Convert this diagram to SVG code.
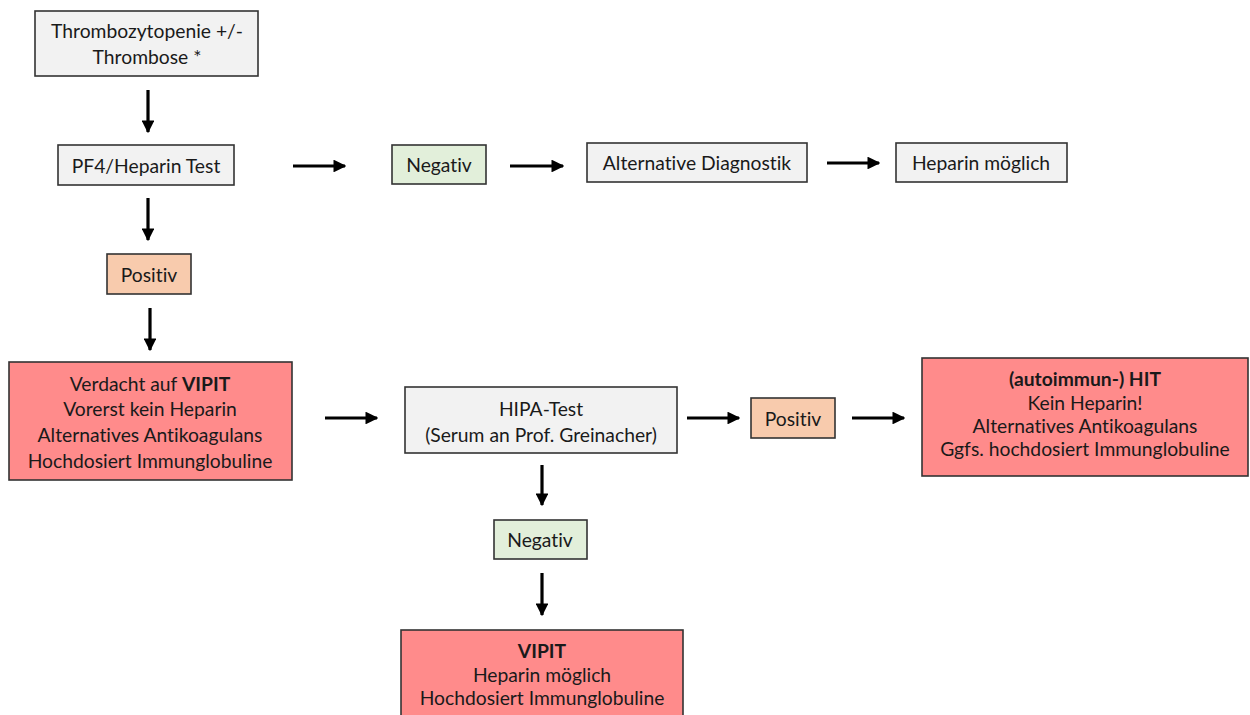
<svg xmlns="http://www.w3.org/2000/svg" width="1250" height="715" viewBox="0 0 1250 715">
<style>
.box{stroke:#333;stroke-width:1.6}
.g{fill:#f2f2f2}
.n{fill:#e2efda}
.p{fill:#f8cbad}
.r{fill:#ff8b8b}
text{font-family:Lato,"Open Sans","Liberation Sans",sans-serif;font-size:19.3px;fill:#1a1a1a;text-anchor:middle;dominant-baseline:central;font-variant-ligatures:none}
.b{font-weight:bold}
.c{stroke:#000;stroke-width:3.2;fill:none;marker-end:url(#ah)}
</style>
<defs>
<marker id="ah" viewBox="0 0 10 10" refX="9" refY="5" markerWidth="4" markerHeight="4" orient="auto" markerUnits="strokeWidth">
<path d="M0,0 L10,5 L0,10 z" fill="#000"/>
</marker>
</defs>
<rect width="1250" height="715" fill="#fff"/>
<g id="connectors">
<line class="c" x1="148" y1="90" x2="148" y2="132"/>
<line class="c" x1="293" y1="166" x2="345" y2="166"/>
<line class="c" x1="510" y1="166" x2="563" y2="166"/>
<line class="c" x1="827" y1="163" x2="879" y2="163"/>
<line class="c" x1="148" y1="198" x2="148" y2="240"/>
<line class="c" x1="150" y1="308" x2="150" y2="350"/>
<line class="c" x1="325" y1="418" x2="377" y2="418"/>
<line class="c" x1="687" y1="418" x2="739" y2="418"/>
<line class="c" x1="852" y1="418" x2="904" y2="418"/>
<line class="c" x1="542" y1="465" x2="542" y2="505"/>
<line class="c" x1="542" y1="573" x2="542" y2="615"/>
</g>
<g id="n1"><rect class="box g" x="35" y="11" width="223" height="65"/>
<text x="147" y="30">Thrombozytopenie +/-</text><text x="147" y="56">Thrombose *</text></g>
<g id="n2"><rect class="box g" x="58" y="145" width="176" height="40"/>
<text x="146" y="165">PF4/Heparin Test</text></g>
<g id="n3"><rect class="box n" x="392" y="145" width="94" height="39"/>
<text x="439" y="164">Negativ</text></g>
<g id="n4"><rect class="box g" x="587" y="143" width="220" height="39"/>
<text x="697" y="162">Alternative Diagnostik</text></g>
<g id="n5"><rect class="box g" x="896" y="143" width="171" height="39"/>
<text x="981" y="162">Heparin möglich</text></g>
<g id="n6"><rect class="box p" x="107" y="254" width="84" height="40"/>
<text x="149" y="274">Positiv</text></g>
<g id="n7"><rect class="box r" x="9" y="362" width="283" height="118"/>
<text x="150" y="383">Verdacht auf <tspan class="b">VIPIT</tspan></text>
<text x="150" y="408">Vorerst kein Heparin</text>
<text x="150" y="434">Alternatives Antikoagulans</text>
<text x="150" y="460">Hochdosiert Immunglobuline</text></g>
<g id="n8"><rect class="box g" x="405" y="387" width="272" height="66"/>
<text x="541" y="408">HIPA-Test</text><text x="541" y="434">(Serum an Prof. Greinacher)</text></g>
<g id="n9"><rect class="box p" x="751" y="398" width="84" height="40"/>
<text x="793" y="418">Positiv</text></g>
<g id="n10"><rect class="box r" x="922" y="358" width="326" height="118"/>
<text x="1085" y="378" class="b">(autoimmun-) HIT</text>
<text x="1085" y="402">Kein Heparin!</text>
<text x="1085" y="425">Alternatives Antikoagulans</text>
<text x="1085" y="448">Ggfs. hochdosiert Immunglobuline</text></g>
<g id="n11"><rect class="box n" x="494" y="520" width="93" height="39"/>
<text x="540" y="539">Negativ</text></g>
<g id="n12"><rect class="box r" x="401" y="630" width="282" height="100"/>
<text x="542" y="650" class="b">VIPIT</text>
<text x="542" y="674">Heparin möglich</text>
<text x="542" y="697">Hochdosiert Immunglobuline</text></g>
</svg>
